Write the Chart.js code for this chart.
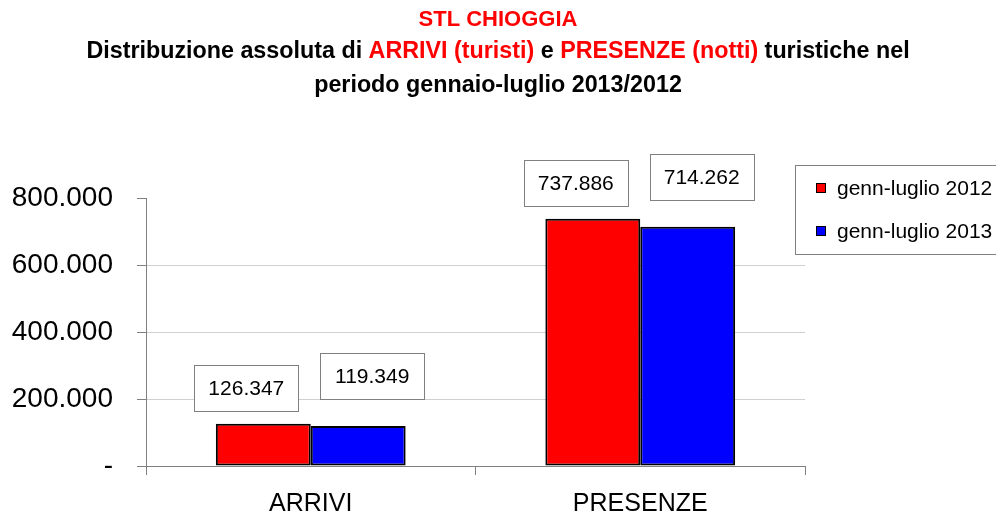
<!DOCTYPE html>
<html>
<head>
<meta charset="utf-8">
<script src="https://cdn.jsdelivr.net/npm/chart.js@4/dist/chart.umd.min.js"></script>
<style>
  html, body { margin: 0; padding: 0; background: #fff; }
  #wrap { width: 996px; height: 514px; position: relative; }
</style>
</head>
<body>
<div id="wrap"><canvas id="c" width="996" height="514"></canvas></div>
<script>
const categories = ['ARRIVI', 'PRESENZE'];
const seriesNames = ['genn-luglio 2012', 'genn-luglio 2013'];
const values2012 = [126347, 737886];
const values2013 = [119349, 714262];
const yTicks = [0, 200000, 400000, 600000, 800000];
const titleLines = [
  [['STL CHIOGGIA', 'red']],
  [['Distribuzione assoluta di ', 'black'], ['ARRIVI (turisti)', 'red'], [' e ', 'black'], ['PRESENZE (notti)', 'red'], [' turistiche nel', 'black']],
  [['periodo gennaio-luglio 2013/2012', 'black']]
];

const FONT = "'Liberation Sans', Arial, sans-serif";
const fmt = v => v === 0 ? '-' : Math.round(v).toString().replace(/\B(?=(\d{3})+(?!\d))/g, '.');

const titlePlugin = {
  id: 'richTitle',
  afterDraw(chart) {
    const ctx = chart.ctx;
    ctx.save();
    ctx.textBaseline = 'middle';
    ctx.textAlign = 'left';
    const ys = [20, 52, 86];
    const sizes = [22, 23.3, 23.3];
    titleLines.forEach((segs, i) => {
      ctx.font = 'bold ' + sizes[i] + 'px ' + FONT;
      const total = segs.reduce((s, p) => s + ctx.measureText(p[0]).width, 0);
      let x = 498 - total / 2;
      segs.forEach(p => {
        ctx.fillStyle = p[1];
        ctx.fillText(p[0], x, ys[i]);
        x += ctx.measureText(p[0]).width;
      });
    });
    ctx.restore();
  }
};

const labelPlugin = {
  id: 'boxLabels',
  afterDatasetsDraw(chart) {
    const ctx = chart.ctx;
    ctx.save();
    ctx.font = '21px ' + FONT;
    ctx.textAlign = 'center';
    ctx.textBaseline = 'middle';
    const offs = [{dx: -17, dy: -13}, {dx: 14, dy: -27}];
    chart.data.datasets.forEach((ds, di) => {
      const meta = chart.getDatasetMeta(di);
      meta.data.forEach((bar, i) => {
        const w = 104, h = 46;
        const cx = bar.x + offs[di].dx;
        const bottom = bar.y + offs[di].dy;
        const x0 = Math.round(cx - w / 2) + 0.5, y0 = Math.round(bottom - h) + 0.5;
        ctx.fillStyle = '#fff';
        ctx.fillRect(x0, y0, w, h);
        ctx.strokeStyle = '#808080';
        ctx.lineWidth = 1;
        ctx.strokeRect(x0, y0, w, h);
        ctx.fillStyle = '#000';
        ctx.fillText(fmt(ds.data[i]), cx, y0 + h / 2 + 1);
      });
    });
    ctx.restore();
  }
};

const legendPlugin = {
  id: 'boxLegend',
  afterDraw(chart) {
    const ctx = chart.ctx;
    ctx.save();
    ctx.strokeStyle = '#808080';
    ctx.lineWidth = 1;
    ctx.strokeRect(795.5, 165.5, 210, 89);
    ctx.font = '21px ' + FONT;
    ctx.textBaseline = 'middle';
    ctx.textAlign = 'left';
    const ys = [188, 231];
    chart.data.datasets.forEach((ds, i) => {
      ctx.fillStyle = ds.backgroundColor;
      ctx.fillRect(816, ys[i] - 5, 10, 10);
      ctx.strokeStyle = '#000';
      ctx.strokeRect(816.5, ys[i] - 4.5, 9, 9);
      ctx.fillStyle = '#000';
      ctx.fillText(ds.label, 837, ys[i] + 1);
    });
    ctx.restore();
  }
};

new Chart(document.getElementById('c'), {
  type: 'bar',
  data: {
    labels: categories,
    datasets: [
      { label: seriesNames[0], data: values2012, backgroundColor: '#ff0000', borderColor: '#000', borderWidth: 2, borderSkipped: false },
      { label: seriesNames[1], data: values2013, backgroundColor: '#0000ff', borderColor: '#000', borderWidth: 2, borderSkipped: false }
    ]
  },
  options: {
    responsive: false,
    animation: false,
    devicePixelRatio: 1,
    layout: { padding: { top: 198, right: 191, left: 0, bottom: 0 } },
    datasets: { bar: { categoryPercentage: 0.576, barPercentage: 1 } },
    plugins: { legend: { display: false }, title: { display: false }, tooltip: { enabled: false } },
    scales: {
      x: {
        offset: true,
        grid: { offset: true, drawOnChartArea: false, tickLength: 9, color: '#808080', tickColor: '#808080' },
        border: { display: true, color: '#808080', width: 1 },
        ticks: { font: { family: FONT, size: 25 }, color: '#000', padding: 14 },
        afterFit(s) { s.height = 48; }
      },
      y: {
        min: 0, max: 800000,
        afterBuildTicks(s) { s.ticks = yTicks.map(v => ({ value: v })); },
        grid: {
          color: c => (c.tick && (c.tick.value === 0 || c.tick.value === 800000)) ? 'rgba(0,0,0,0)' : '#d0d0d0',
          tickColor: '#808080', tickLength: 9, lineWidth: 1
        },
        border: { display: true, color: '#808080', width: 1 },
        ticks: { font: { family: FONT, size: 28 }, color: '#000', padding: 24, callback: v => fmt(v) },
        afterFit(s) { s.width = 146; }
      }
    }
  },
  plugins: [titlePlugin, labelPlugin, legendPlugin]
});
</script>
</body>
</html>
